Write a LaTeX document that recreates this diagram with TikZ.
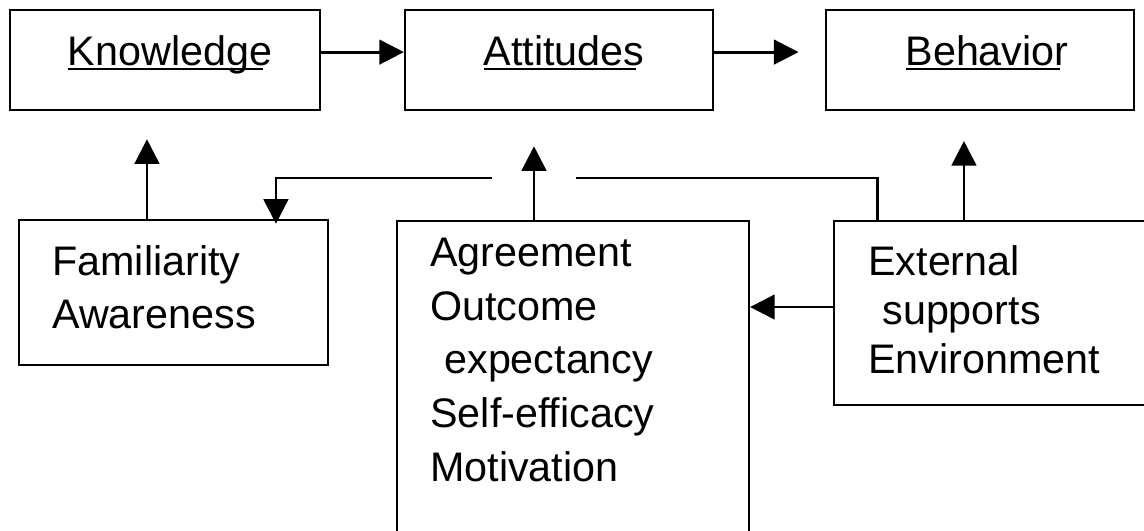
\documentclass[tikz,border=0pt]{standalone}
\usepackage{fontspec}
\setmainfont[Ligatures=NoCommon]{Liberation Sans}
\usetikzlibrary{arrows.meta}
\newcommand\ulword[1]{\setbox0\hbox{#1}\rlap{\rule[-3pt]{\dimexpr\wd0-5pt\relax}{1.1pt}}\box0}
\begin{document}
\begin{tikzpicture}[x=0.02cm,y=-0.02cm,
    box/.style={draw,line width=1.3pt,inner sep=0pt},
    txt/.style={font=\fontsize{23.5}{30.5}\selectfont,inner sep=0pt,align=left},
    arr/.style={line width=1.6pt,-{Triangle[length=14pt,width=14pt]}},
    link/.style={line width=1.6pt}]
  \useasboundingbox (0,0) rectangle (1144,531);
  \clip (0,0) rectangle (1144,531);

  % top row
  \node[box,minimum width=6.2cm,minimum height=2cm] (know) at (165,60) {};
  \node[box,minimum width=6.16cm,minimum height=2cm] (att) at (559,60) {};
  \node[box,minimum width=6.16cm,minimum height=2cm] (beh) at (980,60) {};
  \node[txt,anchor=base] (knowtxt) at (170,65) {\ulword{Knowledge}};
  \node[txt,anchor=base] (atttxt) at (564,65) {\ulword{Attitudes}};
  \node[txt,anchor=base] (behtxt) at (987,65) {\ulword{Behavior}};

  % bottom row
  \node[box,minimum width=6.18cm,minimum height=2.9cm] (fam) at (173.5,292.5) {};
  \node[box,minimum width=7.04cm,minimum height=6.78cm] (mid) at (573,390.5) {};
  \node[box,minimum width=6.52cm,minimum height=3.68cm] (ext) at (997,313) {};
  \node[txt,anchor=north west] (famtxt) at (52,245) {Familiarity\\Awareness};
  \node[txt,anchor=north west] (midtxt) at (430,238)
    {Agreement\\Outcome\\\hspace*{8pt}expectancy\\Self-efficacy\\Motivation};
  \node[txt,font=\fontsize{23.5}{28}\selectfont,anchor=north west] (exttxt) at (868,245)
    {External\\\hspace*{8pt}supports\\Environment};

  % arrows
  \draw[arr] ([yshift=4.5pt]know.east) -- ([yshift=4.5pt]att.west);
  \draw[arr,shorten >=15pt] ([yshift=4.5pt]att.east) -- ([yshift=4.5pt]beh.west);
  \draw[arr,shorten >=16pt] ([xshift=-15.1pt]fam.north) -- ([xshift=-15.1pt]fam.north |- know.south);
  \draw[arr,shorten >=20pt] ([xshift=-22.2pt]mid.north) -- ([xshift=-22.2pt]mid.north |- att.south);
  \draw[arr,shorten >=17pt] ([xshift=-18.8pt]ext.north) -- ([xshift=-18.8pt]ext.north |- beh.south);
  \draw[arr] ([yshift=3.4pt]ext.west) -- ([yshift=3.4pt]ext.west -| mid.east);

  % feedback line
  \coordinate (gapR) at (576,178);
  \coordinate (gapL) at (492,178);
  \draw[link] ([xshift=-67.8pt]ext.north) |- (gapR);
  \draw[arr,shorten >=-2.8pt] (gapL) -| ([xshift=58.3pt]fam.north);
\end{tikzpicture}
\end{document}
